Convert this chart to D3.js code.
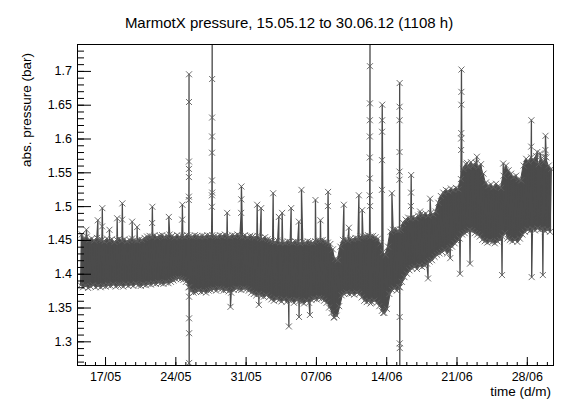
<!DOCTYPE html>
<html>
<head>
<meta charset="utf-8">
<script src="https://cdn.jsdelivr.net/npm/d3@7"></script>
<style>
  html, body { margin: 0; padding: 0; background: #fff; }
  svg { display: block; font-family: "Liberation Sans", Arial, Helvetica, sans-serif; }
</style>
</head>
<body>
<svg id="chart" width="564" height="400"></svg>
<script>
// ---- data -------------------------------------------------------------
// Readings are summarised in 6-hour windows starting 14/05/2012 12:00 UTC.
// For every window: lowest and highest absolute pressure (bar).
const windowHours = 6;
const windowLow = [
  1.383,1.380,1.382,1.379, 1.381,1.383,1.380,1.382, 1.380,1.382,1.381,1.383, 1.382,1.384,1.381,1.383,
  1.383,1.381,1.384,1.382, 1.384,1.382,1.385,1.383, 1.382,1.384,1.383,1.385, 1.384,1.386,1.385,1.387,
  1.386,1.385,1.387,1.386, 1.388,1.390,1.392,1.393, 1.392,1.391,1.388,1.380, 1.374,1.372,1.373,1.375,
  1.373,1.374,1.372,1.375, 1.376,1.377,1.375,1.378, 1.377,1.375,1.376,1.374, 1.372,1.376,1.378,1.377,
  1.376,1.378,1.377,1.375, 1.372,1.370,1.368,1.370, 1.367,1.366,1.368,1.365, 1.362,1.360,1.363,1.361,
  1.359,1.362,1.358,1.361, 1.360,1.357,1.361,1.359, 1.358,1.356,1.360,1.357, 1.361,1.363,1.362,1.364,
  1.363,1.360,1.357,1.350, 1.342,1.336,1.338,1.352, 1.368,1.370,1.372,1.370, 1.371,1.369,1.372,1.370,
  1.365,1.360,1.358,1.360, 1.358,1.360,1.357,1.352, 1.345,1.342,1.348,1.370, 1.376,1.378,1.375,1.380,
  1.388,1.395,1.400,1.405, 1.408,1.410,1.407,1.412, 1.410,1.412,1.415,1.418, 1.420,1.425,1.428,1.430,
  1.432,1.435,1.430,1.438, 1.440,1.445,1.448,1.452, 1.458,1.460,1.462,1.465, 1.463,1.460,1.458,1.455,
  1.450,1.448,1.446,1.448, 1.447,1.445,1.448,1.450, 1.455,1.460,1.452,1.450, 1.448,1.450,1.447,1.452,
  1.458,1.462,1.465,1.463, 1.466,1.464,1.467,1.465, 1.466,1.463,1.465,1.462
];
const windowHigh = [
  1.458,1.452,1.455,1.450, 1.452,1.449,1.453,1.451, 1.450,1.448,1.452,1.449, 1.451,1.447,1.450,1.452,
  1.449,1.451,1.448,1.450, 1.452,1.450,1.449,1.451, 1.450,1.453,1.455,1.456, 1.455,1.457,1.454,1.456,
  1.457,1.455,1.456,1.458, 1.456,1.454,1.457,1.455, 1.456,1.455,1.457,1.456, 1.455,1.457,1.456,1.455,
  1.456,1.455,1.457,1.456, 1.457,1.456,1.455,1.457, 1.456,1.458,1.456,1.455, 1.457,1.456,1.458,1.456,
  1.455,1.457,1.454,1.456, 1.455,1.454,1.456,1.453, 1.452,1.454,1.451,1.450, 1.448,1.447,1.449,1.446,
  1.447,1.446,1.448,1.447, 1.446,1.448,1.447,1.445, 1.447,1.446,1.448,1.447, 1.446,1.448,1.450,1.449,
  1.450,1.448,1.446,1.444, 1.436,1.422,1.420,1.440, 1.450,1.451,1.449,1.452, 1.451,1.453,1.452,1.455,
  1.455,1.456,1.457,1.455, 1.456,1.454,1.452,1.445, 1.432,1.428,1.440,1.462, 1.465,1.466,1.464,1.465,
  1.475,1.480,1.483,1.482, 1.484,1.482,1.486,1.488, 1.487,1.489,1.486,1.490, 1.488,1.492,1.505,1.515,
  1.520,1.524,1.522,1.526, 1.524,1.527,1.525,1.540, 1.555,1.562,1.558,1.565, 1.560,1.564,1.558,1.562,
  1.548,1.535,1.530,1.532, 1.528,1.533,1.530,1.527, 1.545,1.560,1.553,1.548, 1.543,1.545,1.540,1.538,
  1.560,1.570,1.566,1.572, 1.568,1.574,1.562,1.570, 1.565,1.572,1.560,1.555
];
// Short excursions: hour after 14/05 12:00 and the readings taken in that burst.
const spikeHours = [
  15.5, 42.8, 53, 70.5, 89, 100.9, 124.8, 136.7, 172.6, 212.5, 244.3, 260.3,
  315.3, 351.9, 359.8, 385.3, 423.6, 427.6, 433.1, 461.8, 475.4, 483.3, 499.4, 504.8,
  523.2, 529.5, 549.6, 562.9, 574.9, 592.6, 607, 630.8, 642.8, 666.7, 674.6, 692.5,
  694.4, 721.7, 724.8, 745.6, 763.7, 791, 813, 832, 837, 885, 908.4, 911,
  925, 932.3, 937, 948.7, 1008.8, 1011.6, 1078.5, 1079.7, 1093, 1100, 1106.4, 1112
];
const spikeValues = [
  [1.465], [1.479], [1.470, 1.497], [1.465], [1.482], [1.480, 1.504], [1.477], [1.469], [1.475, 1.499], [1.484], [1.480, 1.502],
  [1.509, 1.514, 1.543, 1.555, 1.566, 1.654, 1.695, 1.366, 1.334, 1.312, 1.268, 1.200, 1.380],
  [1.499, 1.516, 1.538, 1.579, 1.603, 1.631, 1.688, 1.760, 1.520], [1.490], [1.351], [1.490, 1.510, 1.529],
  [1.502], [1.354], [1.497], [1.519], [1.484], [1.490], [1.322], [1.497],
  [1.477, 1.336], [1.524], [1.339], [1.509], [1.479], [1.500, 1.521], [1.335], [1.502], [1.468], [1.516], [1.494],
  [1.516, 1.541, 1.572, 1.603, 1.627, 1.652, 1.707, 1.760, 1.500],
  [1.356], [1.524, 1.568, 1.610, 1.627, 1.650], [1.342], [1.519],
  [1.539, 1.551, 1.580, 1.627, 1.647, 1.682, 1.336, 1.297, 1.290, 1.200, 1.380],
  [1.500, 1.520, 1.546], [1.492], [1.393], [1.511], [1.423], [1.400],
  [1.583, 1.600, 1.608, 1.650, 1.669, 1.702],
  [1.564], [1.415], [1.560], [1.573], [1.398], [1.563], [1.588, 1.627], [1.395], [1.580], [1.578], [1.398], [1.573, 1.583, 1.604]
];
// Axis labels
const yTicks = [1.3, 1.35, 1.4, 1.45, 1.5, 1.55, 1.6, 1.65, 1.7];
const xTicks = ["17/05", "24/05", "31/05", "07/06", "14/06", "21/06", "28/06"];

// ---- layout -----------------------------------------------------------
const svg = d3.select("#chart");
const L = 77, R = 554, T = 44, B = 366;
const origin = Date.UTC(2012, 4, 14, 12);
const hour = 3600 * 1000;

const x = d3.scaleUtc()
  .domain([new Date(Date.UTC(2012, 4, 14, 5)), new Date(Date.UTC(2012, 5, 30, 17))])
  .range([L, R]);
const y = d3.scaleLinear().domain([1.2635, 1.7398]).range([B, T]);

// ---- series -----------------------------------------------------------
const windows = windowLow.map((lo, i) => ({ i, lo, hi: windowHigh[i] }));
const points = [];
windows.forEach(w => {
  points.push({ h: w.i * windowHours + 1.5, v: w.lo });
  points.push({ h: w.i * windowHours + 4.5, v: w.hi });
});
spikeHours.forEach((h, k) => {
  const vals = spikeValues[k];
  vals.forEach((v, j) => points.push({ h: h + j / vals.length, v }));
});
points.sort((a, b) => a.h - b.h);
const tx = h => x(new Date(origin + h * hour));
const px = d => tx(d.h);
const py = d => y(d.v);

svg.append("defs").append("clipPath").attr("id", "frame")
  .append("rect").attr("x", L).attr("y", T).attr("width", R - L).attr("height", B - T);

const plot = svg.append("g").attr("clip-path", "url(#frame)");
const col = "#4b4b4b";

// dense body of the hourly readings between each window's extremes
plot.append("path")
  .datum(windows)
  .attr("fill", col)
  .attr("stroke", col)
  .attr("stroke-width", 1)
  .attr("d", d3.area()
    .x(w => tx(w.i * windowHours + 3))
    .y0(w => y(w.lo))
    .y1(w => y(w.hi)));

plot.append("path")
  .datum(points)
  .attr("fill", "none")
  .attr("stroke", col)
  .attr("stroke-width", 1.3)
  .attr("stroke-linejoin", "round")
  .attr("d", d3.line().x(px).y(py));

plot.append("g")
  .selectAll("path")
  .data(points)
  .join("path")
  .attr("transform", d => `translate(${px(d)},${py(d)})`)
  .attr("d", "M-3,-3L3,3M-3,3L3,-3")
  .attr("fill", "none")
  .attr("stroke", "#5e5e5e")
  .attr("stroke-width", 0.9);

// ---- axes -------------------------------------------------------------
const tickFont = 12.5;

// y: majors every 0.05, minors every 0.01, ticks pointing inward
const yMinor = d3.range(127, 174).map(k => k / 100);
svg.append("g")
  .attr("transform", `translate(${L},0)`)
  .call(d3.axisLeft(y).tickValues(yMinor).tickSize(-7).tickFormat(""))
  .call(g => g.select(".domain").remove());
svg.append("g")
  .attr("transform", `translate(${L},0)`)
  .call(d3.axisLeft(y).tickValues(yTicks).tickSize(-14).tickPadding(5).tickFormat(d => String(d)))
  .call(g => g.select(".domain").remove())
  .call(g => g.selectAll("text").attr("font-size", tickFont).attr("font-family", null).attr("fill", "#000"));

// x: weekly majors with labels, daily minors
const parseDay = d3.utcParse("%d/%m/%Y");
const xMajor = xTicks.map(s => parseDay(s + "/2012"));
const xMinor = d3.utcDay.range(...x.domain());
svg.append("g")
  .attr("transform", `translate(0,${B})`)
  .call(d3.axisBottom(x).tickValues(xMinor).tickSize(-4).tickFormat(""))
  .call(g => g.select(".domain").remove());
svg.append("g")
  .attr("transform", `translate(0,${B})`)
  .call(d3.axisBottom(x).tickValues(xMajor).tickSize(-9).tickPadding(6).tickFormat((d, i) => xTicks[i]))
  .call(g => g.select(".domain").remove())
  .call(g => g.selectAll("text").attr("font-size", tickFont).attr("font-family", null).attr("fill", "#000"));

// frame
svg.append("rect")
  .attr("x", L + 0.5).attr("y", T + 0.5)
  .attr("width", R - L - 1).attr("height", B - T - 1)
  .attr("fill", "none").attr("stroke", "#000").attr("stroke-width", 1);

// ---- titles -----------------------------------------------------------
svg.append("text")
  .attr("x", 289).attr("y", 28)
  .attr("text-anchor", "middle")
  .attr("font-size", 15)
  .text("MarmotX pressure, 15.05.12 to 30.06.12 (1108 h)");

svg.append("text")
  .attr("transform", "translate(31,53) rotate(-90)")
  .attr("text-anchor", "end")
  .attr("font-size", 13.5)
  .text("abs. pressure (bar)");

svg.append("text")
  .attr("x", 551).attr("y", 396)
  .attr("text-anchor", "end")
  .attr("font-size", 13.5)
  .text("time (d/m)");
</script>
</body>
</html>
